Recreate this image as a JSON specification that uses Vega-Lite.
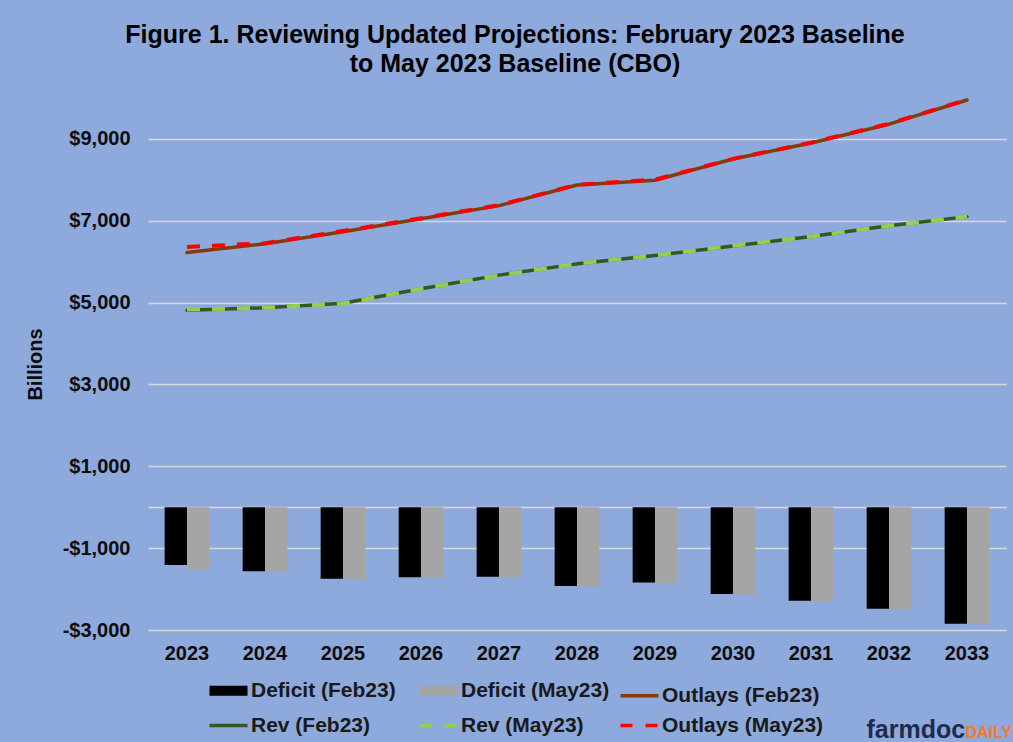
{
  "$schema": "https://vega.github.io/schema/vega-lite/v6.json",
  "width": 858,
  "height": 532,
  "autosize": {"type": "none"},
  "padding": {"left": 148, "top": 98, "right": 7, "bottom": 112},
  "background": "#8EA9DB",
  "config": {
    "view": {"stroke": null},
    "font": "Liberation Sans",
    "axis": {"labelFont": "Liberation Sans", "labelFontWeight": "bold", "labelFontSize": 20, "labelColor": "#0d0d0d", "titleFont": "Liberation Sans", "titleFontWeight": "bold"}
  },
  "title": {
    "text": ["Figure 1. Reviewing Updated Projections: February 2023 Baseline", "to May 2023 Baseline (CBO)"],
    "font": "Liberation Sans", "fontSize": 25, "fontWeight": "bold", "color": "#000000",
    "anchor": "middle", "dx": -62, "offset": 21, "lineHeight": 29
  },
  "data": {"values": [
    {"year": "2023", "series": "Deficit (Feb23)", "value": -1410},
    {"year": "2024", "series": "Deficit (Feb23)", "value": -1567},
    {"year": "2025", "series": "Deficit (Feb23)", "value": -1747},
    {"year": "2026", "series": "Deficit (Feb23)", "value": -1712},
    {"year": "2027", "series": "Deficit (Feb23)", "value": -1698},
    {"year": "2028", "series": "Deficit (Feb23)", "value": -1927},
    {"year": "2029", "series": "Deficit (Feb23)", "value": -1837},
    {"year": "2030", "series": "Deficit (Feb23)", "value": -2123},
    {"year": "2031", "series": "Deficit (Feb23)", "value": -2286},
    {"year": "2032", "series": "Deficit (Feb23)", "value": -2482},
    {"year": "2033", "series": "Deficit (Feb23)", "value": -2849},
    {"year": "2023", "series": "Deficit (May23)", "value": -1530},
    {"year": "2024", "series": "Deficit (May23)", "value": -1576},
    {"year": "2025", "series": "Deficit (May23)", "value": -1771},
    {"year": "2026", "series": "Deficit (May23)", "value": -1722},
    {"year": "2027", "series": "Deficit (May23)", "value": -1714},
    {"year": "2028", "series": "Deficit (May23)", "value": -1928},
    {"year": "2029", "series": "Deficit (May23)", "value": -1853},
    {"year": "2030", "series": "Deficit (May23)", "value": -2124},
    {"year": "2031", "series": "Deficit (May23)", "value": -2294},
    {"year": "2032", "series": "Deficit (May23)", "value": -2490},
    {"year": "2033", "series": "Deficit (May23)", "value": -2857},
    {"year": "2023", "series": "Outlays (Feb23)", "value": 6222},
    {"year": "2024", "series": "Outlays (Feb23)", "value": 6440},
    {"year": "2025", "series": "Outlays (Feb23)", "value": 6733},
    {"year": "2026", "series": "Outlays (Feb23)", "value": 7050},
    {"year": "2027", "series": "Outlays (Feb23)", "value": 7370},
    {"year": "2028", "series": "Outlays (Feb23)", "value": 7874},
    {"year": "2029", "series": "Outlays (Feb23)", "value": 7990},
    {"year": "2030", "series": "Outlays (Feb23)", "value": 8509},
    {"year": "2031", "series": "Outlays (Feb23)", "value": 8900},
    {"year": "2032", "series": "Outlays (Feb23)", "value": 9360},
    {"year": "2033", "series": "Outlays (Feb23)", "value": 9950},
    {"year": "2023", "series": "Rev (Feb23)", "value": 4812},
    {"year": "2024", "series": "Rev (Feb23)", "value": 4873},
    {"year": "2025", "series": "Rev (Feb23)", "value": 4986},
    {"year": "2026", "series": "Rev (Feb23)", "value": 5338},
    {"year": "2027", "series": "Rev (Feb23)", "value": 5672},
    {"year": "2028", "series": "Rev (Feb23)", "value": 5947},
    {"year": "2029", "series": "Rev (Feb23)", "value": 6153},
    {"year": "2030", "series": "Rev (Feb23)", "value": 6386},
    {"year": "2031", "series": "Rev (Feb23)", "value": 6614},
    {"year": "2032", "series": "Rev (Feb23)", "value": 6878},
    {"year": "2033", "series": "Rev (Feb23)", "value": 7101},
    {"year": "2023", "series": "Rev (May23)", "value": 4832},
    {"year": "2024", "series": "Rev (May23)", "value": 4874},
    {"year": "2025", "series": "Rev (May23)", "value": 4979},
    {"year": "2026", "series": "Rev (May23)", "value": 5340},
    {"year": "2027", "series": "Rev (May23)", "value": 5666},
    {"year": "2028", "series": "Rev (May23)", "value": 5952},
    {"year": "2029", "series": "Rev (May23)", "value": 6152},
    {"year": "2030", "series": "Rev (May23)", "value": 6389},
    {"year": "2031", "series": "Rev (May23)", "value": 6616},
    {"year": "2032", "series": "Rev (May23)", "value": 6880},
    {"year": "2033", "series": "Rev (May23)", "value": 7103},
    {"year": "2023", "series": "Outlays (May23)", "value": 6362},
    {"year": "2024", "series": "Outlays (May23)", "value": 6450},
    {"year": "2025", "series": "Outlays (May23)", "value": 6750},
    {"year": "2026", "series": "Outlays (May23)", "value": 7062},
    {"year": "2027", "series": "Outlays (May23)", "value": 7380},
    {"year": "2028", "series": "Outlays (May23)", "value": 7880},
    {"year": "2029", "series": "Outlays (May23)", "value": 8005},
    {"year": "2030", "series": "Outlays (May23)", "value": 8513},
    {"year": "2031", "series": "Outlays (May23)", "value": 8910},
    {"year": "2032", "series": "Outlays (May23)", "value": 9370},
    {"year": "2033", "series": "Outlays (May23)", "value": 9960}
  ]},
  "resolve": {"scale": {"y": "independent"}, "axis": {"y": "independent"}},
  "layer": [
    {
      "transform": [{"filter": {"field": "series", "oneOf": ["Deficit (Feb23)", "Deficit (May23)"]}}],
      "mark": {"type": "bar"},
      "encoding": {
        "x": {"field": "year", "type": "nominal", "sort": null,
          "scale": {"paddingInner": 0.427, "paddingOuter": 0.2135},
          "axis": {"labelAngle": 0, "ticks": false, "domain": false, "labelPadding": 13,
            "title": "farmdoc", "titleX": 718, "titleY": 107, "titleAlign": "left", "titleBaseline": "alphabetic",
            "titleFontSize": 25, "titleColor": "#1F2B4D"}},
        "xOffset": {"field": "series", "type": "nominal", "scale": {"domain": ["Deficit (Feb23)", "Deficit (May23)"], "paddingInner": 0, "paddingOuter": 0}},
        "y": {"field": "value", "type": "quantitative",
          "scale": {"domain": [-3000, 10000], "nice": false, "zero": false},
          "axis": {"values": [-3000, -1000, 0, 1000, 3000, 5000, 7000, 9000],
            "labelExpr": "datum.value == 0 ? '' : (datum.value < 0 ? '-$' + format(-datum.value, ',') : '$' + format(datum.value, ','))",
            "grid": true, "gridColor": "#D9D9D9", "gridWidth": 1.5, "domain": false, "ticks": false, "labelPadding": 18,
            "title": "Billions", "titleFontSize": 20, "titleColor": "#0d0d0d", "titlePadding": 17}},
        "color": {"field": "series", "type": "nominal",
          "scale": {"domain": ["Deficit (Feb23)", "Deficit (May23)", "Outlays (Feb23)", "Rev (Feb23)", "Rev (May23)", "Outlays (May23)"],
            "range": ["#000000", "#A5A5A5", "#843C0C", "#375623", "#92D050", "#FF0000"]},
          "legend": {"orient": "none", "legendX": 70, "legendY": 582, "direction": "horizontal", "columns": 3, "title": null,
            "symbolType": "stroke", "symbolSize": 1444, "symbolStrokeWidth": 3.5,
            "labelFont": "Liberation Sans", "labelFontSize": 21, "labelFontWeight": "bold", "labelColor": "#1a1a1a", "labelLimit": 300,
            "labelOffset": 12, "columnPadding": 3, "rowPadding": 3,
            "encode": {"symbols": {"update": {
              "stroke": {"scale": "color", "field": "value"},
              "strokeWidth": {"signal": "indexof(['Deficit (Feb23)','Deficit (May23)'], datum.value) >= 0 ? 10 : 3.5"},
              "strokeDash": {"signal": "indexof(['Rev (May23)','Outlays (May23)'], datum.value) >= 0 ? [12,13] : [1,0]"},
              "opacity": {"value": 1}
            }}}}}
      }
    },
    {
      "transform": [{"filter": {"field": "series", "oneOf": ["Outlays (Feb23)", "Rev (Feb23)"]}}],
      "mark": {"type": "line", "strokeWidth": 3.5, "strokeJoin": "round", "strokeCap": "round"},
      "encoding": {
        "x": {"field": "year", "type": "nominal", "sort": null},
        "y": {"field": "value", "type": "quantitative", "scale": {"domain": [-3000, 10000], "nice": false, "zero": false}, "axis": null},
        "color": {"field": "series", "type": "nominal"}
      }
    },
    {
      "transform": [{"filter": {"field": "series", "oneOf": ["Rev (May23)", "Outlays (May23)"]}}],
      "mark": {"type": "line", "strokeWidth": 4, "strokeDash": [13, 12], "strokeJoin": "round"},
      "encoding": {
        "x": {"field": "year", "type": "nominal", "sort": null},
        "y": {"field": "value", "type": "quantitative", "scale": {"domain": [-3000, 10000], "nice": false, "zero": false},
          "axis": {"orient": "right", "labels": false, "ticks": false, "domain": false, "grid": false,
            "title": "DAILY", "titleAngle": 0, "titleX": -41, "titleY": 639, "titleAlign": "left", "titleBaseline": "alphabetic",
            "titleFontSize": 16, "titleColor": "#F47B20"}},
        "color": {"field": "series", "type": "nominal"}
      }
    }
  ]
}
